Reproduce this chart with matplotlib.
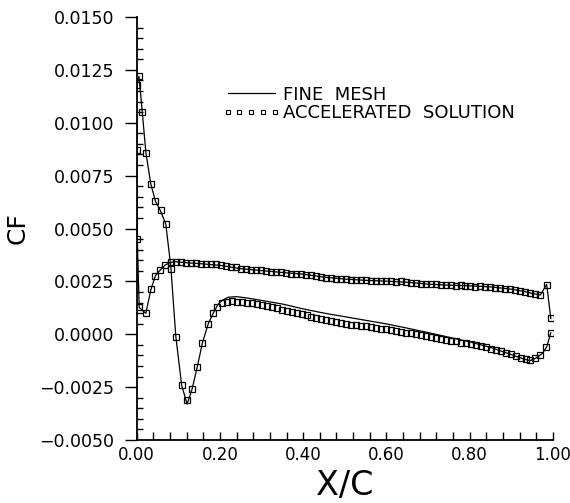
import numpy as np
import matplotlib
matplotlib.use('Agg')
import matplotlib.pyplot as plt
from matplotlib.lines import Line2D
from matplotlib.ticker import MultipleLocator, FuncFormatter

plt.rcParams['font.family'] = ['DejaVu Sans']

# fine mesh, curve through the suction peak (lower curve at mid chord)
fineA_x = [0.001, 0.0055, 0.0135, 0.022, 0.034, 0.045, 0.058, 0.070, 0.082, 0.094,
           0.108, 0.121, 0.133, 0.146, 0.158, 0.172, 0.184, 0.195, 0.205, 0.22,
           0.24, 0.27, 0.30, 0.35, 0.40, 0.45, 0.50, 0.55, 0.60, 0.65,
           0.70, 0.75, 0.80, 0.85, 0.90, 0.93, 0.945, 0.96, 0.975, 0.985, 0.995]
fineA_y = [0.0118, 0.0122, 0.0105, 0.0086, 0.0071, 0.0063, 0.0058, 0.0052, 0.0032, -0.0001,
           -0.0024, -0.0033, -0.0026, -0.0015, -0.0004, 0.0005, 0.0010, 0.0014, 0.0016, 0.00175,
           0.00178, 0.00170, 0.00160, 0.00143, 0.00120, 0.00100, 0.00083, 0.00066, 0.00049, 0.00029,
           0.00008, -0.00014, -0.00036, -0.00062, -0.00096, -0.00117, -0.00125, -0.00112, -0.00090, -0.00060, 0.00007]

# fine mesh, other surface
fineB_x = [0.001, 0.0, 0.0015, 0.006, 0.022, 0.034, 0.045, 0.057, 0.068, 0.082,
           0.094, 0.12, 0.15, 0.20, 0.25, 0.30, 0.35, 0.40, 0.45, 0.50,
           0.55, 0.60, 0.65, 0.70, 0.75, 0.80, 0.85, 0.90, 0.93, 0.95,
           0.97, 0.985, 0.995]
fineB_y = [0.0118, 0.0087, 0.0045, 0.00127, 0.00099, 0.0021, 0.00277, 0.00304, 0.00327, 0.0034,
           0.00343, 0.00338, 0.00334, 0.00326, 0.00310, 0.00301, 0.00292, 0.00284, 0.00270, 0.00261,
           0.00255, 0.00251, 0.00246, 0.00237, 0.00232, 0.00229, 0.00224, 0.00213, 0.00203, 0.00193,
           0.00186, 0.00236, 0.00075]

# accelerated solution markers
accA_x = [0.001, 0.0055, 0.0135, 0.022, 0.034, 0.045, 0.058, 0.071, 0.082, 0.094,
          0.108, 0.121, 0.133, 0.146, 0.158, 0.172, 0.184, 0.194,
          0.204, 0.216, 0.228, 0.240, 0.252, 0.264, 0.276, 0.288, 0.300, 0.312,
          0.324, 0.336, 0.348, 0.360, 0.372, 0.384, 0.396, 0.408, 0.420, 0.432,
          0.444, 0.456, 0.468, 0.480, 0.492, 0.504, 0.516, 0.528, 0.540, 0.552,
          0.564, 0.576, 0.588, 0.600, 0.612, 0.624, 0.636, 0.648, 0.660, 0.672,
          0.684, 0.696, 0.708, 0.720, 0.732, 0.744, 0.756, 0.768, 0.780, 0.792,
          0.804, 0.816, 0.828, 0.840, 0.852, 0.864, 0.876, 0.888, 0.900, 0.912,
          0.924, 0.936, 0.946, 0.957, 0.969, 0.983, 0.995]
accA_y = [0.0118, 0.0122, 0.0105, 0.00855, 0.0071, 0.0063, 0.00587, 0.0052, 0.0031, -0.00015,
          -0.0024, -0.0031, -0.0026, -0.00153, -0.00043, 0.00049, 0.00099, 0.00127,
          0.00146, 0.00152, 0.00155, 0.00154, 0.00152, 0.00150, 0.00147, 0.00143, 0.00139, 0.00133,
          0.00127, 0.00122, 0.00117, 0.00112, 0.00107, 0.00101, 0.00095, 0.00089, 0.00083, 0.00078,
          0.00073, 0.00068, 0.00063, 0.00058, 0.00054, 0.00050, 0.00046, 0.00043, 0.00040, 0.00037,
          0.00034, 0.00031, 0.00027, 0.00024, 0.00020, 0.00016, 0.00012, 0.00008, 0.00004, 0.00000,
          -0.00004, -0.00009, -0.00013, -0.00017, -0.00021, -0.00026, -0.00030, -0.00034, -0.00039, -0.00043,
          -0.00047, -0.00052, -0.00057, -0.00062, -0.00068, -0.00074, -0.00080, -0.00087, -0.00094, -0.00102,
          -0.00110, -0.00118, -0.00124, -0.00112, -0.00100, -0.00062, 0.00007]

accB_x = [0.0, 0.0015, 0.006, 0.022, 0.0336, 0.0448, 0.0568, 0.068, 0.082,
          0.094, 0.106, 0.118, 0.130, 0.142, 0.154, 0.166, 0.178, 0.190, 0.202,
          0.214, 0.226, 0.238, 0.250, 0.262, 0.274, 0.286, 0.298, 0.310, 0.322,
          0.334, 0.346, 0.358, 0.370, 0.382, 0.394, 0.406, 0.418, 0.430, 0.442,
          0.454, 0.466, 0.478, 0.490, 0.502, 0.514, 0.526, 0.538, 0.550, 0.562,
          0.574, 0.586, 0.598, 0.610, 0.622, 0.634, 0.646, 0.658, 0.670, 0.682,
          0.694, 0.706, 0.718, 0.730, 0.742, 0.754, 0.766, 0.778, 0.790, 0.802,
          0.814, 0.826, 0.838, 0.850, 0.862, 0.874, 0.886, 0.898, 0.910, 0.922,
          0.934, 0.946, 0.958, 0.970, 0.985, 0.995]
accB_y = [0.0087, 0.0045, 0.00127, 0.00099, 0.00212, 0.00277, 0.00304, 0.00327, 0.0034,
          0.00343, 0.00341, 0.00338, 0.00336, 0.00335, 0.00334, 0.00332, 0.00331, 0.00330, 0.00326,
          0.00322, 0.00316, 0.00318, 0.00310, 0.00307, 0.00303, 0.00306, 0.00302, 0.00298, 0.00296,
          0.00293, 0.00294, 0.00289, 0.00287, 0.00284, 0.00285, 0.00281, 0.00279, 0.00275, 0.00272,
          0.00268, 0.00266, 0.00263, 0.00262, 0.00260, 0.00258, 0.00257, 0.00256, 0.00255, 0.00254,
          0.00253, 0.00253, 0.00251, 0.00250, 0.00248, 0.00250, 0.00246, 0.00244, 0.00242, 0.00240,
          0.00238, 0.00236, 0.00236, 0.00233, 0.00234, 0.00231, 0.00230, 0.00232, 0.00228, 0.00229,
          0.00225, 0.00226, 0.00223, 0.00224, 0.00220, 0.00218, 0.00216, 0.00213, 0.00209, 0.00206,
          0.00201, 0.00196, 0.00190, 0.00187, 0.00233, 0.00075]

fig = plt.figure(figsize=(5.7, 5.03), dpi=100)
ax = fig.add_axes([0.2398, 0.1252, 0.7302, 0.8410])

ax.plot(fineA_x, fineA_y, color='black', linewidth=0.9)
ax.plot(fineB_x, fineB_y, color='black', linewidth=0.9)
ax.plot(accA_x, accA_y, linestyle='none', marker='s', markersize=4.0,
        markerfacecolor='none', markeredgecolor='black', markeredgewidth=0.9)
ax.plot(accB_x, accB_y, linestyle='none', marker='s', markersize=4.0,
        markerfacecolor='none', markeredgecolor='black', markeredgewidth=0.9)

ax.set_xlim(0, 1.0)
ax.set_ylim(-0.005, 0.015)

ax.spines['top'].set_visible(False)
ax.spines['right'].set_visible(False)
ax.spines['left'].set_linewidth(1.3)
ax.spines['bottom'].set_linewidth(1.3)

ax.xaxis.set_major_locator(MultipleLocator(0.2))
ax.xaxis.set_minor_locator(MultipleLocator(0.04))
ax.yaxis.set_major_locator(MultipleLocator(0.0025))
ax.yaxis.set_minor_locator(MultipleLocator(0.0005))
ax.xaxis.set_major_formatter(FuncFormatter(lambda v, p: f'{v:.2f}'))
ax.yaxis.set_major_formatter(FuncFormatter(lambda v, p: f'{v:.4f}'.replace('-', '\u2212')))

ax.tick_params(axis='x', which='both', direction='in', length=6, width=1.0, labelsize=12, pad=4)
ax.tick_params(axis='y', which='major', direction='out', length=9, width=1.0, labelsize=12.5, pad=7)
ax.tick_params(axis='y', which='minor', direction='in', length=4, width=1.0)

ax.set_xlabel('X/C', fontsize=24, labelpad=4)
ax.set_ylabel('CF', fontsize=18)
ax.yaxis.set_label_coords(-0.258, 0.5)

handles = [Line2D([], [], color='black', linewidth=0.9),
           Line2D([], [], linestyle='none', marker='s', markersize=3.2,
                  markerfacecolor='none', markeredgecolor='black', markeredgewidth=0.8)]
ax.legend(handles, ['FINE  MESH', 'ACCELERATED  SOLUTION'], loc='upper left',
          bbox_to_anchor=(0.39, 0.83), bbox_transform=fig.transFigure,
          frameon=False, fontsize=13, numpoints=5, handlelength=3.2,
          handletextpad=0.15, labelspacing=0.05, borderpad=0, borderaxespad=0)

fig.savefig('out.png', dpi=100)
